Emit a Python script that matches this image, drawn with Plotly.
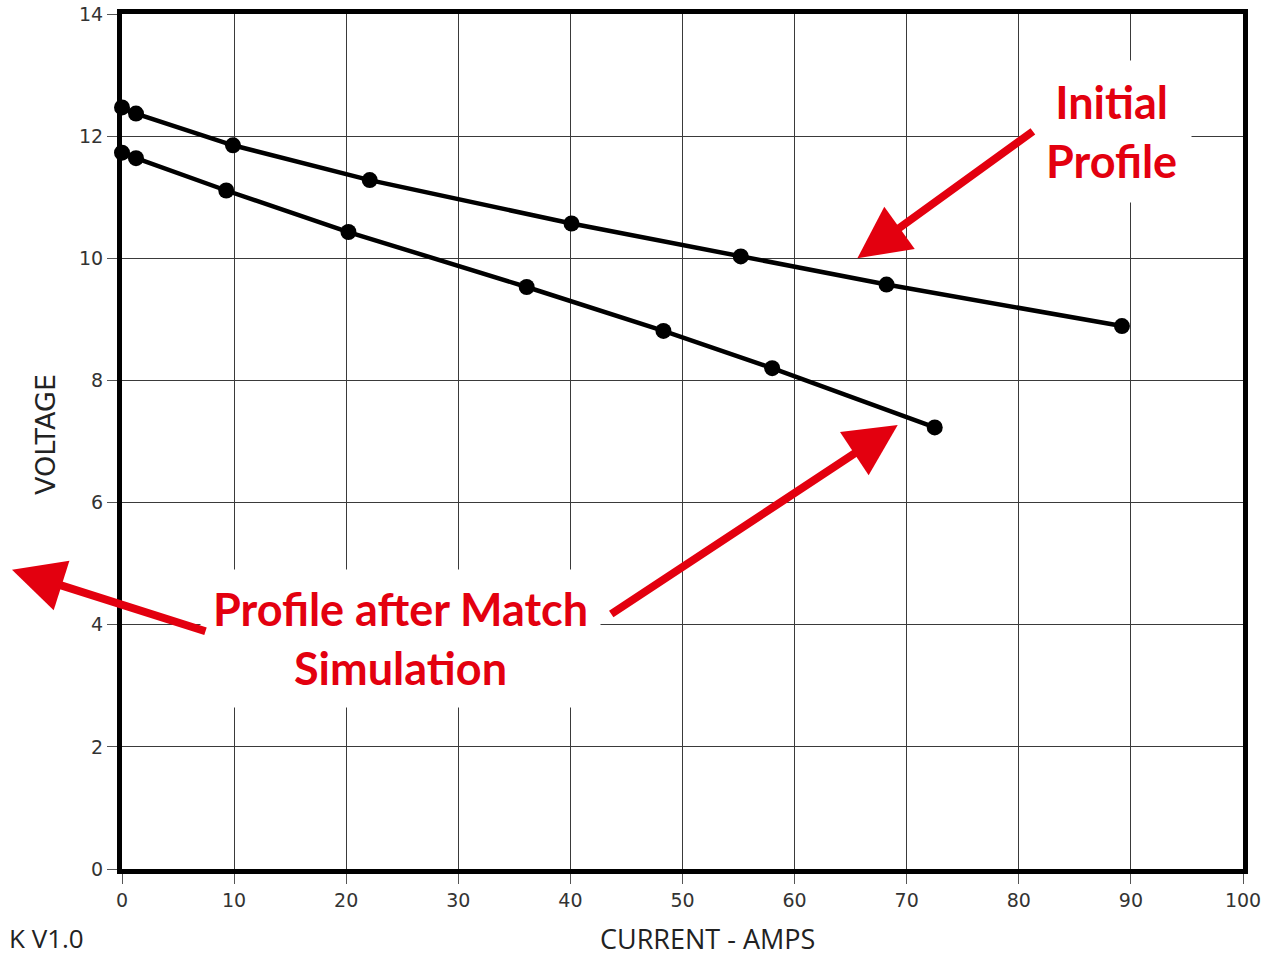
import plotly.graph_objects as go

# Data
initial_current = [0, 1.25, 9.9, 22.1, 40.1, 55.2, 68.2, 89.2]
initial_voltage = [12.47, 12.37, 11.85, 11.28, 10.57, 10.03, 9.57, 8.89]
match_current = [0, 1.25, 9.3, 20.2, 36.1, 48.3, 58.0, 72.5]
match_voltage = [11.73, 11.64, 11.11, 10.43, 9.53, 8.81, 8.20, 7.23]

x_ticks = [0, 10, 20, 30, 40, 50, 60, 70, 80, 90, 100]
y_ticks = [0, 2, 4, 6, 8, 10, 12, 14]

RED = "#e3000f"

L, R, T, B = 122, 20, 14, 88
W, H = 1263, 957
PW, PH = W - L - R, H - T - B


def px(xp):
    return (xp - L) / PW


def py(yp):
    return (H - B - yp) / PH


fig = go.Figure()
for xs, ys, name in [(initial_current, initial_voltage, "Initial Profile"),
                     (match_current, match_voltage, "Profile after Match Simulation")]:
    fig.add_trace(go.Scatter(
        x=xs, y=ys, mode="lines+markers", name=name,
        line=dict(color="black", width=4.5),
        marker=dict(color="black", size=16),
        cliponaxis=False, showlegend=False,
    ))

axis_common = dict(
    showgrid=True, gridcolor="#3a3a3a", gridwidth=1.2,
    showline=True, linecolor="black", linewidth=5, mirror=True,
    ticks="outside", ticklen=10, tickcolor="#555", tickwidth=1.2,
    tickfont=dict(family="DejaVu Sans", size=19, color="#333"),
    zeroline=False, automargin=False,
)

fig.update_xaxes(range=[0, 100], tickvals=x_ticks, **axis_common)
fig.update_yaxes(range=[0, 14], tickvals=y_ticks, ticklabelstandoff=0, **axis_common)

annotations = []

label_font = dict(family="Lato", size=45, color=RED)
annotations.append(dict(
    x=px(1111), y=py(132), xref="paper", yref="paper",
    xanchor="center", yanchor="middle",
    text="<b>Initial<br>Profile</b>", showarrow=False, font=label_font,
    bgcolor="white", borderpad=14, align="center",
))
annotations.append(dict(
    x=px(400), y=py(638), xref="paper", yref="paper",
    xanchor="center", yanchor="middle",
    text="<b>Profile after Match<br>Simulation</b>", showarrow=False, font=label_font,
    bgcolor="white", borderpad=12, align="center",
))

# Arrows (head at x,y; tail offset ax, ay in pixels)
arrow_style = dict(showarrow=True, arrowhead=2, arrowsize=1.3, arrowwidth=8,
                   arrowcolor=RED, text="", standoff=0)
annotations.append(dict(x=65.6, y=10.0, xref="x", yref="y", ax=177, ay=-128, **arrow_style))
annotations.append(dict(x=69.2, y=7.27, xref="x", yref="y", ax=-288, ay=190, **arrow_style))
annotations.append(dict(x=px(12), y=4.9, xref="paper", yref="y", ax=195, ay=62, **arrow_style))

# axis titles and footer
annotations.append(dict(
    x=px(707), y=py(938), xref="paper", yref="paper",
    xanchor="center", yanchor="middle",
    text="CURRENT - AMPS", showarrow=False,
    font=dict(family="Open Sans", size=27, color="#222"),
))
annotations.append(dict(
    x=px(45), y=py(435), xref="paper", yref="paper",
    xanchor="center", yanchor="middle",
    text="VOLTAGE", showarrow=False, textangle=-90,
    font=dict(family="DejaVu Sans", size=27, color="#222"),
))
annotations.append(dict(
    x=px(86), y=py(938), xref="paper", yref="paper",
    xanchor="right", yanchor="middle",
    text="K V1.0", showarrow=False,
    font=dict(family="Open Sans", size=26, color="#222"),
))

fig.update_layout(
    width=W, height=H,
    margin=dict(l=L, r=R, t=T, b=B, autoexpand=False),
    paper_bgcolor="white", plot_bgcolor="white",
    annotations=annotations,
)

fig.write_html(
    "out.html",
    config={"displayModeBar": False},
    post_script="document.body.style.margin='0';document.body.style.overflow='hidden';",
)
